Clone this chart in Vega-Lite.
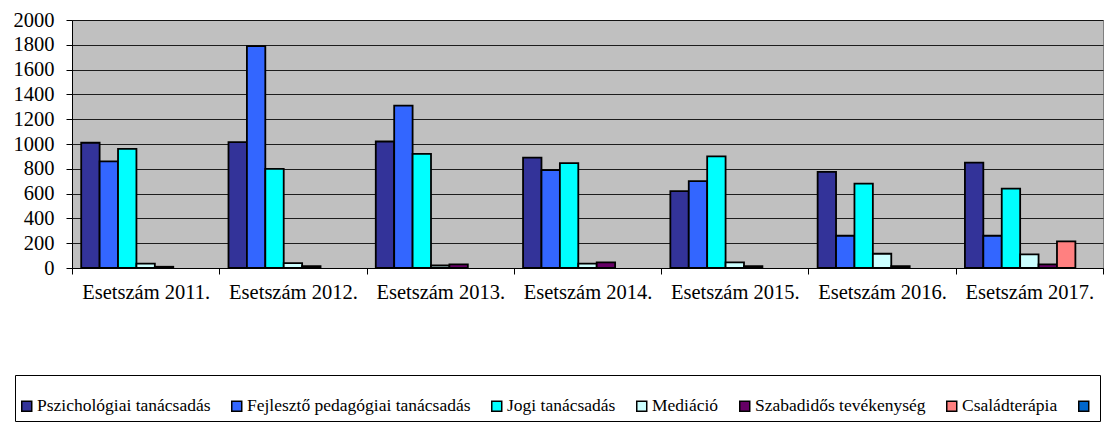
{
  "$schema": "https://vega.github.io/schema/vega-lite/v6.json",
  "autosize": "none",
  "padding": {"left": 72, "top": 20, "right": 6, "bottom": 166},
  "width": 1031,
  "height": 248,
  "background": "white",
  "data": {
    "values": [
      {"year": "Esetszám 2011.", "series": "Pszichológiai tanácsadás", "value": 1010},
      {"year": "Esetszám 2011.", "series": "Fejlesztő pedagógiai tanácsadás", "value": 860},
      {"year": "Esetszám 2011.", "series": "Jogi tanácsadás", "value": 960},
      {"year": "Esetszám 2011.", "series": "Mediáció", "value": 35},
      {"year": "Esetszám 2011.", "series": "Szabadidős tevékenység", "value": 10},
      {"year": "Esetszám 2012.", "series": "Pszichológiai tanácsadás", "value": 1015},
      {"year": "Esetszám 2012.", "series": "Fejlesztő pedagógiai tanácsadás", "value": 1790},
      {"year": "Esetszám 2012.", "series": "Jogi tanácsadás", "value": 800},
      {"year": "Esetszám 2012.", "series": "Mediáció", "value": 40},
      {"year": "Esetszám 2012.", "series": "Szabadidős tevékenység", "value": 15},
      {"year": "Esetszám 2013.", "series": "Pszichológiai tanácsadás", "value": 1020},
      {"year": "Esetszám 2013.", "series": "Fejlesztő pedagógiai tanácsadás", "value": 1310},
      {"year": "Esetszám 2013.", "series": "Jogi tanácsadás", "value": 920},
      {"year": "Esetszám 2013.", "series": "Mediáció", "value": 20},
      {"year": "Esetszám 2013.", "series": "Szabadidős tevékenység", "value": 30},
      {"year": "Esetszám 2014.", "series": "Pszichológiai tanácsadás", "value": 890},
      {"year": "Esetszám 2014.", "series": "Fejlesztő pedagógiai tanácsadás", "value": 790},
      {"year": "Esetszám 2014.", "series": "Jogi tanácsadás", "value": 845},
      {"year": "Esetszám 2014.", "series": "Mediáció", "value": 35},
      {"year": "Esetszám 2014.", "series": "Szabadidős tevékenység", "value": 45},
      {"year": "Esetszám 2015.", "series": "Pszichológiai tanácsadás", "value": 620},
      {"year": "Esetszám 2015.", "series": "Fejlesztő pedagógiai tanácsadás", "value": 700},
      {"year": "Esetszám 2015.", "series": "Jogi tanácsadás", "value": 900},
      {"year": "Esetszám 2015.", "series": "Mediáció", "value": 45},
      {"year": "Esetszám 2015.", "series": "Szabadidős tevékenység", "value": 15},
      {"year": "Esetszám 2016.", "series": "Pszichológiai tanácsadás", "value": 775},
      {"year": "Esetszám 2016.", "series": "Fejlesztő pedagógiai tanácsadás", "value": 260},
      {"year": "Esetszám 2016.", "series": "Jogi tanácsadás", "value": 680},
      {"year": "Esetszám 2016.", "series": "Mediáció", "value": 115},
      {"year": "Esetszám 2016.", "series": "Szabadidős tevékenység", "value": 15},
      {"year": "Esetszám 2017.", "series": "Pszichológiai tanácsadás", "value": 850},
      {"year": "Esetszám 2017.", "series": "Fejlesztő pedagógiai tanácsadás", "value": 260},
      {"year": "Esetszám 2017.", "series": "Jogi tanácsadás", "value": 640},
      {"year": "Esetszám 2017.", "series": "Mediáció", "value": 110},
      {"year": "Esetszám 2017.", "series": "Szabadidős tevékenység", "value": 30},
      {"year": "Esetszám 2017.", "series": "Családterápia", "value": 215}
    ]
  },
  "mark": {"type": "bar", "stroke": "#000000", "strokeWidth": 1.8, "opacity": 1},
  "encoding": {
    "x": {
      "field": "year",
      "type": "nominal",
      "sort": null,
      "scale": {"paddingInner": 0, "paddingOuter": 0},
      "axis": {
        "title": null,
        "labelAngle": 0,
        "tickBand": "extent",
        "ticks": true,
        "tickSize": 6,
        "tickColor": "#000000",
        "domainColor": "#000000",
        "labelPadding": 8,
        "labelFont": "Liberation Serif",
        "labelFontSize": 20.5,
        "labelColor": "#000000",
        "grid": false
      }
    },
    "xOffset": {
      "field": "series",
      "type": "nominal",
      "scale": {
        "domain": ["Pszichológiai tanácsadás", "Fejlesztő pedagógiai tanácsadás", "Jogi tanácsadás", "Mediáció", "Szabadidős tevékenység", "Családterápia", " "],
        "paddingInner": 0,
        "paddingOuter": 0.5
      }
    },
    "y": {
      "field": "value",
      "type": "quantitative",
      "scale": {"domain": [0, 2000], "nice": false},
      "axis": {
        "title": null,
        "format": "d",
        "values": [0, 200, 400, 600, 800, 1000, 1200, 1400, 1600, 1800, 2000],
        "tickSize": 6,
        "tickColor": "#000000",
        "domainColor": "#000000",
        "labelPadding": 12,
        "labelFont": "Liberation Serif",
        "labelFontSize": 20.5,
        "labelColor": "#000000",
        "grid": true,
        "gridColor": "#000000",
        "gridOpacity": 0.85,
        "gridWidth": 1
      }
    },
    "color": {
      "field": "series",
      "type": "nominal",
      "scale": {
        "domain": ["Pszichológiai tanácsadás", "Fejlesztő pedagógiai tanácsadás", "Jogi tanácsadás", "Mediáció", "Szabadidős tevékenység", "Családterápia", " "],
        "range": ["#333399", "#3366FF", "#00FFFF", "#CCFFFF", "#660066", "#FF8080", "#0066CC"]
      },
      "legend": {
        "title": null,
        "orient": "none",
        "legendX": -57,
        "legendY": 355,
        "direction": "horizontal",
        "columns": 7,
        "padding": 6,
        "strokeColor": "#000000",
        "fillColor": "#FFFFFF",
        "symbolType": "M-1,-0.206H-0.588V0.206H-1Z",
        "symbolSize": 2352,
        "symbolStrokeColor": "#000000",
        "symbolStrokeWidth": 1.5,
        "symbolOpacity": 1,
        "labelOffset": -34,
        "columnPadding": 17,
        "labelFont": "Liberation Serif",
        "labelFontSize": 17.5,
        "labelLimit": 400,
        "labelColor": "#000000"
      }
    }
  },
  "config": {
    "font": "Liberation Serif",
    "view": {"fill": "#C0C0C0", "stroke": "#808080", "strokeWidth": 1}
  }
}
